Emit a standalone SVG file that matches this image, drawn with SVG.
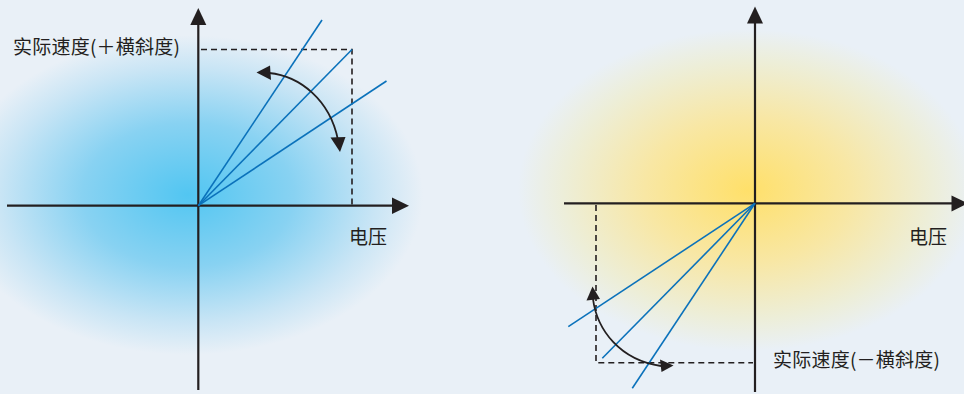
<svg xmlns="http://www.w3.org/2000/svg" width="964" height="394" viewBox="0 0 964 394">
<style>
.ax{stroke:#231f20;stroke-width:2.2;fill:none}
.ah{fill:#231f20}
.dash{stroke:#231f20;stroke-width:1.6;fill:none;stroke-dasharray:6 4}
.bl{stroke:#0b72bb;stroke-width:1.6;fill:none}
.arc{stroke:#231f20;stroke-width:1.8;fill:none}
.t{font-family:"Noto Sans CJK SC","Noto Sans",sans-serif;font-size:19px;fill:#231f20}
</style>
<defs>
<radialGradient id="gb" cx="188" cy="195" r="235" gradientUnits="userSpaceOnUse" gradientTransform="translate(188 195) scale(1 0.68) translate(-188 -195)">
<stop offset="0" stop-color="#52c6f2"/>
<stop offset="0.45" stop-color="#88d2f2"/>
<stop offset="0.8" stop-color="#c9e5f5"/>
<stop offset="1" stop-color="#e9f0f7"/>
</radialGradient>
<radialGradient id="gy" cx="748" cy="190" r="230" gradientUnits="userSpaceOnUse" gradientTransform="translate(748 190) scale(1 0.7) translate(-748 -190)">
<stop offset="0" stop-color="#ffe06a"/>
<stop offset="0.45" stop-color="#f8e7a4"/>
<stop offset="0.8" stop-color="#edeed8"/>
<stop offset="1" stop-color="#e9f0f7"/>
</radialGradient>
</defs>
<rect width="964" height="394" fill="#e9f0f7"/>
<rect width="482" height="394" fill="url(#gb)"/>
<rect x="482" width="482" height="394" fill="url(#gy)"/>

<g id="left-chart">
<g id="left-axes">
<line class="ax" x1="198.3" y1="390" x2="198.3" y2="24"/>
<polygon class="ah" points="198.3,8 190.3,25 206.3,25"/>
<line class="ax" x1="7" y1="205.7" x2="393" y2="205.7"/>
<polygon class="ah" points="409,205.7 392,197.5 392,214"/>
</g>
<g id="left-dashed">
<polyline class="dash" points="201,49.5 352,49.5 352,205"/>
</g>
<g id="left-lines">
<line class="bl" x1="198.3" y1="205.7" x2="322" y2="20"/>
<line class="bl" x1="198.3" y1="205.7" x2="352" y2="49.5"/>
<line class="bl" x1="198.3" y1="205.7" x2="386.5" y2="81"/>
</g>
<g id="left-arc">
<path class="arc" d="M269,73 C300,76 330,100 338,140"/>
<polygon class="ah" points="256.5,72.5 270,65.5 271,80"/>
<polygon class="ah" points="340,152 330.5,137.5 345.5,137"/>
</g>
<text class="t" x="13" y="54" textLength="167" lengthAdjust="spacing">实际速度(＋横斜度)</text>
<text class="t" x="349" y="244">电压</text>
</g>

<g id="right-chart">
<g id="right-axes">
<line class="ax" x1="755" y1="392" x2="755" y2="22"/>
<polygon class="ah" points="755,6.5 747,23.5 763,23.5"/>
<line class="ax" x1="564" y1="203.3" x2="953" y2="203.3"/>
<polygon class="ah" points="968,203.3 951.5,195.5 951.5,211.5"/>
</g>
<g id="right-dashed">
<polyline class="dash" points="596,205 596,362.7 753,362.7"/>
</g>
<g id="right-lines">
<line class="bl" x1="755" y1="203.3" x2="568.3" y2="326.7"/>
<line class="bl" x1="755" y1="203.3" x2="602.3" y2="358.3"/>
<line class="bl" x1="755" y1="203.3" x2="632.3" y2="388.3"/>
</g>
<g id="right-arc">
<path class="arc" d="M593,299 C597,330 620,360 661,366"/>
<polygon class="ah" points="592.5,286.5 586.5,300.5 600,299"/>
<polygon class="ah" points="673.5,365.5 660,359.5 661.5,372"/>
</g>
<text class="t" x="773" y="367" textLength="167" lengthAdjust="spacing">实际速度(－横斜度)</text>
<text class="t" x="909" y="244">电压</text>
</g>
</svg>
